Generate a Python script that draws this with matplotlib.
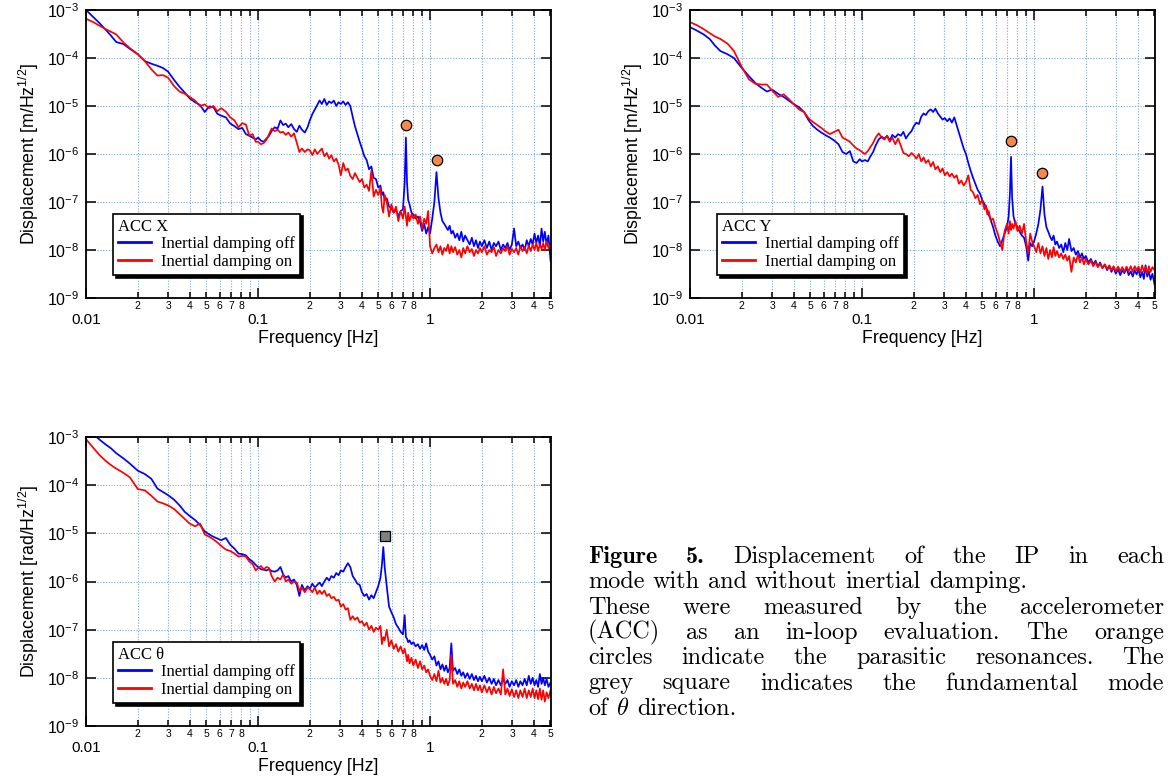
import numpy as np
import matplotlib

matplotlib.use("Agg")

import matplotlib.pyplot as plt
from matplotlib.ticker import FixedLocator, FuncFormatter, NullLocator, NullFormatter
from matplotlib.lines import Line2D

# frequency grid shared by all spectra [Hz]
freq = [
    # 0.01 - 0.1
    0.0100, 0.0110, 0.0120, 0.0130, 0.0140, 0.0150, 0.0165, 0.0180, 0.0200, 0.0220,
    0.0240, 0.0260, 0.0280, 0.0300, 0.0325, 0.0350, 0.0375, 0.0400, 0.0430, 0.0460,
    0.0490, 0.0520, 0.0550, 0.0580, 0.0610, 0.0650, 0.0690, 0.0730, 0.0770, 0.0810,
    0.0850, 0.0890, 0.0930, 0.0970,
    # 0.1 - 0.2
    0.100, 0.104, 0.108, 0.112, 0.116, 0.120, 0.125, 0.130, 0.135, 0.140,
    0.145, 0.150, 0.156, 0.162, 0.168, 0.174, 0.180, 0.187, 0.194,
    # 0.2 - 1
    0.200, 0.207, 0.214, 0.221, 0.228, 0.235, 0.243, 0.251, 0.259, 0.267,
    0.276, 0.285, 0.294, 0.303, 0.313, 0.323, 0.333, 0.344, 0.355, 0.366,
    0.378, 0.390, 0.402, 0.415, 0.428, 0.442, 0.456, 0.470, 0.485, 0.500,
    0.515, 0.525, 0.535, 0.545, 0.560, 0.578, 0.596, 0.615, 0.634, 0.654,
    0.675, 0.696, 0.712, 0.724, 0.735, 0.746, 0.760, 0.780, 0.800, 0.825,
    0.850, 0.875, 0.900, 0.925, 0.950, 0.975,
    # 1 - 5
    1.000, 1.030, 1.060, 1.090, 1.120, 1.150, 1.180, 1.210, 1.240, 1.270,
    1.300, 1.330, 1.360, 1.400, 1.440, 1.480, 1.520, 1.560, 1.600, 1.650,
    1.700, 1.750, 1.800, 1.850, 1.900, 1.950, 2.000, 2.070, 2.140, 2.210,
    2.280, 2.350, 2.420, 2.500, 2.580, 2.660, 2.740, 2.820, 2.900, 2.990,
    3.080, 3.170, 3.260, 3.350, 3.450, 3.550, 3.650, 3.750, 3.850, 3.950,
    4.050, 4.150, 4.250, 4.350, 4.450, 4.550, 4.650, 4.760, 4.880, 5.020,
]

# ACC X [m/Hz^1/2]
x_off = [
    1.0e-3, 7.2e-4, 5.3e-4, 3.9e-4, 2.9e-4, 2.15e-4, 1.95e-4, 1.55e-4, 1.2e-4, 8.6e-5,
    7.6e-5, 6.9e-5, 6.2e-5, 5.2e-5, 3.5e-5, 2.5e-5, 1.9e-5, 1.45e-5, 1.2e-5, 1.05e-5,
    7.5e-6, 9.8e-6, 9.5e-6, 6.9e-6, 6.3e-6, 5.8e-6, 4.3e-6, 3.8e-6, 3.3e-6, 3.5e-6,
    2.6e-6, 2.4e-6, 2.2e-6, 2.0e-6,
    2.2e-6, 1.9e-6, 1.8e-6, 2.1e-6, 2.4e-6, 3.0e-6, 3.6e-6, 3.4e-6, 5.0e-6, 4.0e-6,
    4.3e-6, 3.6e-6, 4.2e-6, 3.3e-6, 2.9e-6, 3.9e-6, 3.2e-6, 2.8e-6, 3.6e-6,
    5.0e-6, 6.8e-6, 8.5e-6, 1.05e-5, 1.3e-5, 1.1e-5, 1.4e-5, 1.05e-5, 1.25e-5, 1.15e-5,
    1.3e-5, 1.0e-5, 1.2e-5, 1.1e-5, 1.25e-5, 1.05e-5, 1.2e-5, 1.0e-5, 6.0e-6, 3.8e-6,
    2.6e-6, 1.8e-6, 1.3e-6, 9.0e-7, 7.5e-7, 4.8e-7, 5.5e-7, 3.2e-7, 3.0e-7, 2.0e-7,
    2.2e-7, 1.4e-7, 1.6e-7, 1.1e-7, 1.2e-7, 8.0e-8, 7.5e-8, 6.0e-8, 7.0e-8, 5.0e-8,
    6.5e-8, 7.0e-8, 2.5e-7, 2.2e-6, 2.5e-7, 1.1e-7, 9.0e-8, 6.0e-8, 5.5e-8, 4.5e-8,
    5.0e-8, 3.8e-8, 2.5e-8, 3.5e-8, 2.2e-8, 3.0e-8,
    2.2e-8, 4.5e-8, 1.0e-7, 4.2e-7, 1.2e-7, 6.0e-8, 4.0e-8, 3.5e-8, 3.0e-8, 2.6e-8,
    3.2e-8, 2.2e-8, 2.5e-8, 1.8e-8, 2.2e-8, 1.6e-8, 2.4e-8, 1.5e-8, 2.0e-8, 1.6e-8,
    1.3e-8, 1.8e-8, 1.2e-8, 1.6e-8, 1.1e-8, 1.5e-8, 1.2e-8, 1.6e-8, 1.1e-8, 1.5e-8,
    1.0e-8, 1.4e-8, 1.2e-8, 1.5e-8, 1.0e-8, 1.3e-8, 1.1e-8, 1.4e-8, 1.0e-8, 1.3e-8,
    2.8e-8, 1.2e-8, 1.5e-8, 1.1e-8, 1.3e-8, 1.0e-8, 1.6e-8, 1.2e-8, 1.7e-8, 1.3e-8,
    2.2e-8, 1.4e-8, 2.0e-8, 1.2e-8, 2.8e-8, 1.5e-8, 2.4e-8, 1.3e-8, 2.0e-8, 6.0e-9,
]
x_on = [
    6.6e-4, 5.6e-4, 4.7e-4, 4.0e-4, 3.5e-4, 3.1e-4, 2.1e-4, 1.6e-4, 1.2e-4, 8.6e-5,
    5.8e-5, 4.3e-5, 4.4e-5, 3.9e-5, 2.6e-5, 2.0e-5, 1.8e-5, 1.55e-5, 1.3e-5, 1.0e-5,
    1.08e-5, 9.0e-6, 1.0e-5, 7.8e-6, 9.0e-6, 7.6e-6, 5.8e-6, 5.0e-6, 3.6e-6, 4.4e-6,
    4.1e-6, 2.4e-6, 2.6e-6, 1.8e-6,
    1.8e-6, 1.6e-6, 1.7e-6, 2.0e-6, 2.6e-6, 3.4e-6, 3.0e-6, 3.2e-6, 2.8e-6, 2.9e-6,
    2.5e-6, 2.8e-6, 2.3e-6, 2.7e-6, 1.7e-6, 1.1e-6, 1.3e-6, 1.1e-6, 1.25e-6,
    1.2e-6, 9.5e-7, 1.25e-6, 1.0e-6, 1.15e-6, 1.3e-6, 9.0e-7, 1.05e-6, 8.0e-7, 9.5e-7,
    7.0e-7, 8.0e-7, 6.0e-7, 3.6e-7, 6.5e-7, 4.5e-7, 5.0e-7, 3.5e-7, 3.0e-7, 4.0e-7,
    3.2e-7, 2.6e-7, 3.0e-7, 2.0e-7, 2.3e-7, 1.7e-7, 4.5e-7, 1.3e-7, 1.8e-7, 1.4e-7,
    2.0e-7, 8.0e-8, 6.0e-8, 1.4e-7, 1.0e-7, 5.0e-8, 9.0e-8, 6.0e-8, 8.0e-8, 4.0e-8,
    6.5e-8, 4.5e-8, 8.0e-8, 5.0e-8, 3.2e-8, 6.0e-8, 4.0e-8, 5.5e-8, 4.5e-8, 5.5e-8,
    3.5e-8, 5.0e-8, 2.8e-8, 4.5e-8, 3.5e-8, 6.5e-8,
    1.2e-8, 8.5e-9, 1.1e-8, 1.3e-8, 9.0e-9, 1.2e-8, 8.0e-9, 1.1e-8, 9.5e-9, 1.3e-8,
    8.5e-9, 1.2e-8, 9.0e-9, 1.15e-8, 8.0e-9, 1.0e-8, 7.0e-9, 1.1e-8, 8.5e-9, 1.2e-8,
    9.0e-9, 1.05e-8, 7.5e-9, 1.0e-8, 8.5e-9, 1.1e-8, 9.0e-9, 1.2e-8, 8.0e-9, 1.0e-8,
    9.0e-9, 1.15e-8, 7.5e-9, 1.0e-8, 8.5e-9, 1.1e-8, 9.5e-9, 1.2e-8, 8.0e-9, 1.05e-8,
    9.0e-9, 1.1e-8, 8.0e-9, 1.2e-8, 9.5e-9, 1.15e-8, 8.5e-9, 1.25e-8, 9.5e-9, 1.3e-8,
    1.0e-8, 1.4e-8, 9.5e-9, 1.3e-8, 1.05e-8, 1.4e-8, 1.0e-8, 1.5e-8, 1.1e-8, 1.3e-8,
]

# ACC Y [m/Hz^1/2]
y_off = [
    4.4e-4, 3.7e-4, 3.1e-4, 2.5e-4, 1.8e-4, 1.4e-4, 1.2e-4, 1.0e-4, 6.2e-5, 4.2e-5,
    3.0e-5, 2.4e-5, 2.0e-5, 2.2e-5, 1.8e-5, 1.55e-5, 1.3e-5, 1.1e-5, 9.5e-6, 7.5e-6,
    5.0e-6, 3.8e-6, 3.2e-6, 2.8e-6, 2.5e-6, 2.2e-6, 1.9e-6, 1.6e-6, 1.1e-6, 1.0e-6,
    1.15e-6, 7.0e-7, 6.5e-7, 7.8e-7,
    7.0e-7, 7.5e-7, 7.0e-7, 9.0e-7, 1.1e-6, 1.5e-6, 2.0e-6, 2.3e-6, 2.1e-6, 2.4e-6,
    1.9e-6, 2.5e-6, 2.2e-6, 2.6e-6, 2.4e-6, 2.9e-6, 2.1e-6, 2.6e-6, 3.0e-6,
    3.8e-6, 4.5e-6, 4.2e-6, 6.0e-6, 7.0e-6, 6.5e-6, 7.8e-6, 8.5e-6, 7.5e-6, 8.8e-6,
    7.0e-6, 6.0e-6, 5.2e-6, 5.6e-6, 4.8e-6, 5.5e-6, 4.5e-6, 5.8e-6, 4.0e-6, 2.8e-6,
    1.9e-6, 1.3e-6, 1.0e-6, 6.5e-7, 4.5e-7, 3.2e-7, 2.4e-7, 1.8e-7, 1.5e-7, 1.1e-7,
    9.0e-8, 8.0e-8, 6.5e-8, 5.5e-8, 4.2e-8, 3.0e-8, 2.0e-8, 1.5e-8, 1.2e-8, 1.6e-8,
    2.2e-8, 3.0e-8, 5.0e-8, 1.5e-7, 8.7e-7, 1.2e-7, 5.0e-8, 3.5e-8, 3.0e-8, 2.4e-8,
    2.0e-8, 1.8e-8, 1.2e-8, 6.0e-9, 1.4e-8, 1.2e-8,
    1.5e-8, 2.2e-8, 3.5e-8, 7.0e-8, 2.1e-7, 5.5e-8, 3.0e-8, 2.4e-8, 1.9e-8, 1.6e-8,
    2.0e-8, 1.3e-8, 1.5e-8, 1.1e-8, 1.3e-8, 9.0e-9, 1.4e-8, 1.0e-8, 1.7e-8, 9.5e-9,
    1.1e-8, 8.0e-9, 9.5e-9, 7.0e-9, 8.5e-9, 6.5e-9, 7.5e-9, 5.5e-9, 6.5e-9, 5.0e-9,
    6.0e-9, 4.5e-9, 5.5e-9, 4.2e-9, 5.0e-9, 3.8e-9, 4.6e-9, 3.5e-9, 4.3e-9, 3.2e-9,
    4.0e-9, 3.0e-9, 3.8e-9, 3.3e-9, 4.2e-9, 3.0e-9, 3.6e-9, 2.8e-9, 3.8e-9, 3.1e-9,
    4.0e-9, 2.7e-9, 3.5e-9, 2.5e-9, 4.8e-9, 2.8e-9, 3.6e-9, 2.4e-9, 3.2e-9, 1.9e-9,
]
y_on = [
    5.6e-4, 4.8e-4, 4.0e-4, 3.3e-4, 2.8e-4, 2.5e-4, 2.0e-4, 1.4e-4, 6.5e-5, 3.6e-5,
    2.9e-5, 2.8e-5, 2.8e-5, 2.1e-5, 1.55e-5, 1.75e-5, 1.4e-5, 1.1e-5, 8.5e-6, 7.5e-6,
    5.5e-6, 4.6e-6, 4.0e-6, 3.5e-6, 3.0e-6, 2.6e-6, 2.9e-6, 3.2e-6, 2.2e-6, 2.0e-6,
    1.8e-6, 1.5e-6, 1.3e-6, 1.2e-6,
    1.1e-6, 1.0e-6, 1.15e-6, 1.4e-6, 1.7e-6, 2.2e-6, 2.7e-6, 2.2e-6, 2.0e-6, 2.4e-6,
    1.8e-6, 2.2e-6, 1.6e-6, 2.1e-6, 1.5e-6, 1.05e-6, 1.0e-6, 9.0e-7, 1.05e-6,
    9.5e-7, 8.0e-7, 1.0e-6, 7.0e-7, 8.5e-7, 6.5e-7, 7.5e-7, 5.5e-7, 6.8e-7, 4.8e-7,
    5.5e-7, 4.2e-7, 5.0e-7, 3.6e-7, 4.2e-7, 3.4e-7, 3.9e-7, 3.2e-7, 3.6e-7, 2.4e-7,
    2.8e-7, 2.2e-7, 2.6e-7, 3.6e-7, 1.8e-7, 1.6e-7, 1.2e-7, 1.4e-7, 9.0e-8, 1.1e-7,
    7.0e-8, 8.5e-8, 5.5e-8, 6.5e-8, 4.2e-8, 4.5e-8, 3.0e-8, 2.2e-8, 1.5e-8, 1.0e-8,
    2.5e-8, 3.5e-8, 2.2e-8, 4.0e-8, 2.6e-8, 3.5e-8, 2.8e-8, 4.0e-8, 2.5e-8, 3.2e-8,
    2.2e-8, 3.5e-8, 1.5e-8, 8.5e-9, 2.2e-8, 1.5e-8,
    1.2e-8, 9.0e-9, 1.4e-8, 8.5e-9, 1.2e-8, 7.5e-9, 1.1e-8, 6.5e-9, 1.0e-8, 7.0e-9,
    1.15e-8, 7.5e-9, 9.5e-9, 7.0e-9, 8.5e-9, 6.5e-9, 8.0e-9, 6.0e-9, 7.5e-9, 3.5e-9,
    7.0e-9, 5.5e-9, 8.0e-9, 5.5e-9, 7.0e-9, 5.0e-9, 6.5e-9, 5.0e-9, 6.0e-9, 4.6e-9,
    5.6e-9, 4.4e-9, 5.2e-9, 4.2e-9, 5.0e-9, 4.0e-9, 4.8e-9, 3.8e-9, 4.6e-9, 3.6e-9,
    4.5e-9, 3.6e-9, 4.4e-9, 3.5e-9, 4.5e-9, 3.6e-9, 4.6e-9, 3.5e-9, 4.6e-9, 3.8e-9,
    4.5e-9, 3.4e-9, 4.8e-9, 3.6e-9, 4.4e-9, 3.3e-9, 4.6e-9, 3.5e-9, 4.4e-9, 3.8e-9,
]

# ACC theta [rad/Hz^1/2]
t_off = [
    1.5e-3, 1.15e-3, 8.8e-4, 7.0e-4, 5.8e-4, 4.6e-4, 3.6e-4, 2.8e-4, 2.0e-4, 1.7e-4,
    1.35e-4, 8.5e-5, 7.2e-5, 6.2e-5, 5.0e-5, 3.8e-5, 2.8e-5, 2.3e-5, 1.9e-5, 1.5e-5,
    1.1e-5, 9.5e-6, 8.5e-6, 7.8e-6, 7.2e-6, 8.0e-6, 5.8e-6, 4.8e-6, 3.8e-6, 3.7e-6,
    3.5e-6, 2.9e-6, 2.6e-6, 2.2e-6,
    2.0e-6, 1.8e-6, 1.75e-6, 1.7e-6, 1.8e-6, 1.65e-6, 1.6e-6, 1.7e-6, 2.0e-6, 1.4e-6,
    1.2e-6, 1.3e-6, 1.0e-6, 1.1e-6, 8.5e-7, 5.0e-7, 8.5e-7, 6.5e-7, 8.0e-7,
    7.0e-7, 9.0e-7, 7.5e-7, 8.5e-7, 9.5e-7, 8.0e-7, 1.0e-6, 1.2e-6, 1.05e-6, 1.3e-6,
    1.2e-6, 1.5e-6, 1.35e-6, 1.7e-6, 1.6e-6, 2.0e-6, 2.4e-6, 2.0e-6, 1.3e-6, 1.1e-6,
    9.0e-7, 8.5e-7, 6.0e-7, 5.0e-7, 5.5e-7, 4.2e-7, 5.2e-7, 4.5e-7, 6.0e-7, 8.0e-7,
    1.2e-6, 2.2e-6, 5.2e-6, 2.0e-6, 8.0e-7, 3.0e-7, 2.3e-7, 1.8e-7, 1.3e-7, 1.1e-7,
    9.0e-8, 8.0e-8, 2.0e-7, 7.0e-8, 6.5e-8, 5.5e-8, 6.0e-8, 5.0e-8, 5.5e-8, 4.5e-8,
    5.0e-8, 4.0e-8, 4.8e-8, 3.8e-8, 5.2e-8, 3.5e-8,
    3.0e-8, 2.4e-8, 2.8e-8, 1.8e-8, 2.2e-8, 1.5e-8, 1.9e-8, 1.4e-8, 1.8e-8, 1.3e-8,
    1.6e-8, 5.2e-8, 1.4e-8, 1.6e-8, 1.2e-8, 1.5e-8, 1.1e-8, 1.3e-8, 1.0e-8, 1.25e-8,
    9.5e-9, 1.2e-8, 9.0e-9, 1.1e-8, 8.5e-9, 1.05e-8, 8.5e-9, 1.1e-8, 8.0e-9, 1.0e-8,
    7.5e-9, 9.5e-9, 7.0e-9, 9.0e-9, 7.0e-9, 9.5e-9, 7.5e-9, 9.0e-9, 6.5e-9, 8.5e-9,
    7.0e-9, 9.0e-9, 6.5e-9, 8.5e-9, 7.0e-9, 9.5e-9, 7.0e-9, 1.1e-8, 7.5e-9, 1.0e-8,
    7.0e-9, 9.0e-9, 6.5e-9, 1.2e-8, 7.5e-9, 1.0e-8, 7.0e-9, 9.5e-9, 6.5e-9, 8.0e-9,
]
t_on = [
    9.0e-4, 6.0e-4, 4.2e-4, 3.2e-4, 2.6e-4, 2.2e-4, 1.8e-4, 1.45e-4, 8.3e-5, 7.8e-5,
    6.0e-5, 4.6e-5, 4.2e-5, 3.8e-5, 3.2e-5, 2.5e-5, 2.0e-5, 1.6e-5, 1.4e-5, 1.6e-5,
    9.5e-6, 8.5e-6, 7.5e-6, 6.5e-6, 5.5e-6, 4.6e-6, 4.3e-6, 3.8e-6, 3.3e-6, 3.4e-6,
    3.3e-6, 2.6e-6, 2.3e-6, 1.7e-6,
    1.9e-6, 2.1e-6, 1.8e-6, 2.0e-6, 1.9e-6, 1.3e-6, 1.0e-6, 1.2e-6, 1.1e-6, 1.4e-6,
    1.0e-6, 1.1e-6, 9.0e-7, 1.0e-6, 9.5e-7, 6.5e-7, 7.5e-7, 6.0e-7, 7.5e-7,
    7.0e-7, 6.0e-7, 7.5e-7, 5.5e-7, 6.5e-7, 5.5e-7, 6.5e-7, 5.0e-7, 5.5e-7, 4.5e-7,
    4.8e-7, 4.0e-7, 4.2e-7, 3.0e-7, 3.4e-7, 2.6e-7, 2.8e-7, 1.6e-7, 1.9e-7, 1.6e-7,
    1.8e-7, 1.4e-7, 1.5e-7, 1.2e-7, 1.4e-7, 1.0e-7, 1.2e-7, 9.0e-8, 1.1e-7, 1.0e-7,
    1.2e-7, 5.0e-8, 7.0e-8, 6.0e-8, 1.0e-7, 4.5e-8, 6.0e-8, 4.0e-8, 5.0e-8, 3.5e-8,
    4.5e-8, 3.2e-8, 4.0e-8, 3.0e-8, 2.2e-8, 3.0e-8, 2.0e-8, 2.6e-8, 1.8e-8, 2.4e-8,
    1.6e-8, 2.2e-8, 1.5e-8, 1.8e-8, 1.3e-8, 1.5e-8,
    1.1e-8, 9.0e-9, 1.2e-8, 8.5e-9, 1.4e-8, 8.0e-9, 1.0e-8, 7.5e-9, 9.5e-9, 7.0e-9,
    9.0e-9, 3.0e-8, 7.5e-9, 9.0e-9, 6.5e-9, 8.5e-9, 6.0e-9, 8.0e-9, 6.5e-9, 8.5e-9,
    6.0e-9, 7.5e-9, 5.5e-9, 7.5e-9, 5.5e-9, 7.0e-9, 5.0e-9, 7.0e-9, 5.0e-9, 6.5e-9,
    4.5e-9, 6.5e-9, 4.8e-9, 6.0e-9, 4.5e-9, 1.5e-8, 4.5e-9, 6.0e-9, 4.2e-9, 5.8e-9,
    4.0e-9, 5.5e-9, 3.8e-9, 5.5e-9, 4.0e-9, 6.0e-9, 3.8e-9, 5.5e-9, 4.0e-9, 6.0e-9,
    3.8e-9, 5.5e-9, 3.6e-9, 6.0e-9, 3.5e-9, 5.5e-9, 3.2e-9, 5.0e-9, 3.8e-9, 5.5e-9,
]

# parasitic resonances (orange circles) and theta fundamental mode (grey square)
x_res_f = [0.725, 1.10]
x_res_v = [4.0e-6, 7.5e-7]
y_res_f = [0.735, 1.12]
y_res_v = [1.9e-6, 4.0e-7]
t_mode_f = [0.546]
t_mode_v = [8.7e-6]

caption = [
    ([("Figure", True), ("5.", True), ("Displacement", False), ("of", False), ("the", False),
      ("IP", False), ("in", False), ("each", False)], True),
    ([(w, False) for w in "mode with and without inertial damping.".split()], False),
    ([(w, False) for w in "These were measured by the accelerometer".split()], True),
    ([(w, False) for w in "(ACC) as an in-loop evaluation. The orange".split()], True),
    ([(w, False) for w in "circles indicate the parasitic resonances. The".split()], True),
    ([(w, False) for w in "grey square indicates the fundamental mode".split()], True),
    ([("of", False), (r"$\theta$", False), ("direction.", False)], False),
]

for s in (x_off, x_on, y_off, y_on, t_off, t_on):
    assert len(s) == len(freq)

plt.rcParams["font.family"] = ["Liberation Sans", "DejaVu Sans"]
plt.rcParams["mathtext.fontset"] = "cm"

W, H = 1168, 784
fig = plt.figure(figsize=(W / 100, H / 100), dpi=100)

GRID = "#7fa7cf"
serif = {"family": "Liberation Serif", "size": 12}


def minor_label(v, pos):
    d = int(round(v / 10 ** np.floor(np.log10(v) + 1e-9)))
    return "" if d == 9 else str(d)


def decade_label(v, pos):
    return r"$\mathregular{10^{%d}}$" % int(round(np.log10(v)))


def make_panel(rect, off, on, title, ylabel):
    ax = fig.add_axes(rect)
    ax.set_xscale("log")
    ax.set_yscale("log")
    ax.set_xlim(0.01, 5.05)
    ax.set_ylim(1e-9, 1e-3)

    ax.plot(freq, off, color="#0000ff", lw=1.25)
    ax.plot(freq, on, color="#ff0000", lw=1.25)

    minors = [d * k for d in (0.01, 0.1, 1.0) for k in range(2, 10) if d * k <= 5.01]
    ax.xaxis.set_major_locator(FixedLocator([0.01, 0.1, 1.0]))
    ax.xaxis.set_major_formatter(FuncFormatter(lambda v, p: {0.01: "0.01", 0.1: "0.1", 1.0: "1"}.get(round(v, 3), "")))
    ax.xaxis.set_minor_locator(FixedLocator(minors))
    ax.xaxis.set_minor_formatter(FuncFormatter(minor_label))
    ax.yaxis.set_major_locator(FixedLocator([10.0 ** e for e in range(-9, -2)]))
    ax.yaxis.set_major_formatter(FuncFormatter(decade_label))
    ax.yaxis.set_minor_locator(NullLocator())
    ax.yaxis.set_minor_formatter(NullFormatter())

    ax.tick_params(which="both", direction="in", top=True, right=True, width=1.1)
    ax.tick_params(axis="x", which="major", length=7, pad=11, labelsize=11)
    ax.tick_params(axis="x", which="minor", length=4, pad=2.5, labelsize=7.5)
    ax.tick_params(axis="y", which="major", length=7, pad=5, labelsize=11.5)

    ax.grid(True, axis="x", which="both", color=GRID, ls=(0, (1, 1.5)), lw=0.8)
    ax.grid(True, axis="y", which="major", color=GRID, ls=(0, (1, 1.5)), lw=0.8)
    for sp in ax.spines.values():
        sp.set_linewidth(1.3)

    ax.set_xlabel("Frequency [Hz]", fontsize=12.8, labelpad=2)
    ax.set_ylabel(ylabel, fontsize=12.8, labelpad=4)

    handles = [Line2D([], [], color="#0000ff", lw=2), Line2D([], [], color="#ff0000", lw=2)]
    leg = ax.legend(handles, ["Inertial damping off", "Inertial damping on"], title=title,
                    loc="lower left", bbox_to_anchor=(0.058, 0.08), borderaxespad=0,
                    prop=serif, title_fontproperties=serif, alignment="left",
                    fancybox=False, framealpha=1, edgecolor="black",
                    shadow={"color": "black", "alpha": 1},
                    handlelength=2.0, handletextpad=0.6, borderpad=0.3, labelspacing=0.1)
    leg.get_frame().set_linewidth(1.2)
    return ax


ax1 = make_panel([86 / W, 1 - 298 / H, 465 / W, 288 / H], x_off, x_on, "ACC X",
                 r"Displacement [m/Hz$\mathregular{^{1/2}}$]")
ax1.plot(x_res_f, x_res_v, "o", ms=7.5, mfc="#f5894b", mec="black", mew=0.9, zorder=5)

ax2 = make_panel([690 / W, 1 - 298 / H, 465 / W, 288 / H], y_off, y_on, "ACC Y",
                 r"Displacement [m/Hz$\mathregular{^{1/2}}$]")
ax2.plot(y_res_f, y_res_v, "o", ms=7.5, mfc="#f5894b", mec="black", mew=0.9, zorder=5)

ax3 = make_panel([86 / W, 1 - 726 / H, 465 / W, 289 / H], t_off, t_on, "ACC θ",
                 r"Displacement [rad/Hz$\mathregular{^{1/2}}$]")
ax3.plot(t_mode_f, t_mode_v, "s", ms=7.5, mfc="#808080", mec="black", mew=0.9, zorder=5)

# justified caption, word by word
renderer = fig.canvas.get_renderer()
left, right = 588, 1164
for i, (words, justify) in enumerate(caption):
    y = 1 - (563 + 25.3 * i) / H
    texts = [fig.text(0, y, w, fontfamily="cmb10" if b else "cmr10", fontsize=17.5) for w, b in words]
    widths = [t.get_window_extent(renderer).width for t in texts]
    gap = (right - left - sum(widths)) / (len(texts) - 1) if justify else 8.1
    x = left
    for t, wd in zip(texts, widths):
        t.set_x(x / W)
        x += wd + gap

fig.savefig("out.png", dpi=100)
